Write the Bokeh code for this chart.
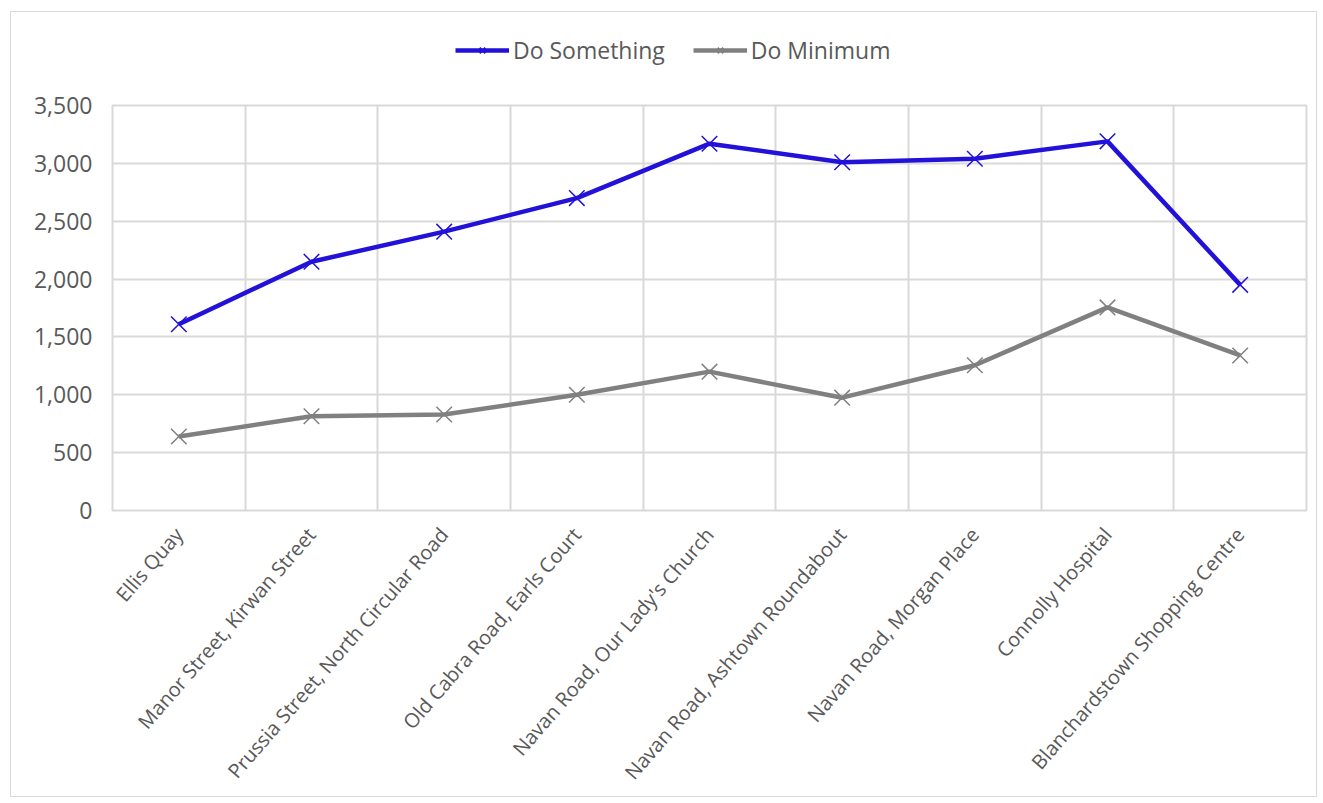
import math
from bokeh.plotting import figure
from bokeh.layouts import column
from bokeh.models import Range1d, FixedTicker, NumeralTickFormatter, Legend, LegendItem
from bokeh.embed import file_html
from bokeh.resources import INLINE

categories = ["Ellis Quay", "Manor Street, Kirwan Street", "Prussia Street, North Circular Road",
              "Old Cabra Road, Earls Court", "Navan Road, Our Lady's Church",
              "Navan Road, Ashtown Roundabout", "Navan Road, Morgan Place",
              "Connolly Hospital", "Blanchardstown Shopping Centre"]
do_something = [1610, 2150, 2410, 2700, 3170, 3010, 3040, 3190, 1950]
do_minimum = [640, 815, 830, 1000, 1200, 975, 1255, 1755, 1340]
y_ticks = [0, 500, 1000, 1500, 2000, 2500, 3000, 3500]
series_names = ["Do Something", "Do Minimum"]

FONT = "Open Sans"
TXT = "#595959"
GRID = "#d9d9d9"
BLUE = "#2212D9"
GRAY = "#808080"

xs = [i + 0.5 for i in range(len(categories))]

# ---- main chart ----
p = figure(width=1305, height=724, output_backend="svg", toolbar_location=None,
           x_range=Range1d(0, len(categories)), y_range=Range1d(0, 3500),
           min_border_left=101, min_border_top=33, min_border_right=10, min_border_bottom=285)
p.background_fill_color = "white"
p.border_fill_color = "white"
p.outline_line_color = GRID
p.outline_line_width = 2

p.xaxis.ticker = FixedTicker(ticks=xs)
p.xaxis.major_label_overrides = {x: c for x, c in zip(xs, categories)}
p.xaxis.major_label_orientation = 0.855
p.xgrid.ticker = FixedTicker(ticks=list(range(len(categories) + 1)))
p.yaxis.ticker = FixedTicker(ticks=y_ticks)
p.yaxis.formatter = NumeralTickFormatter(format="0,0")
for ax in (p.xaxis[0], p.yaxis[0]):
    ax.axis_line_color = None
    ax.major_tick_line_color = None
    ax.minor_tick_line_color = None
    ax.major_label_text_font = FONT
    ax.major_label_text_color = TXT
p.yaxis.major_label_text_font_size = "23px"
p.yaxis.major_label_standoff = 14
p.xaxis.major_label_text_font_size = "20px"
p.xaxis.major_label_standoff = 14
for g in (p.xgrid[0], p.ygrid[0]):
    g.grid_line_color = GRID
    g.grid_line_width = 2

p.line(xs, do_something, line_color=BLUE, line_width=4.5)
p.scatter(xs, do_something, marker="x", size=22, line_color=BLUE, line_width=1.5)
p.line(xs, do_minimum, line_color=GRAY, line_width=4.5)
p.scatter(xs, do_minimum, marker="x", size=22, line_color=GRAY, line_width=1.5)

# ---- legend strip (same series, view range set off the data so only the legend shows) ----
lg = figure(width=1305, height=60, output_backend="svg", toolbar_location=None,
            x_range=Range1d(-20, -10), y_range=Range1d(0, 3500),
            min_border=0)
lg.axis.visible = False
lg.grid.visible = False
lg.outline_line_color = None
lg.border_fill_color = "white"
l1 = lg.line(xs, do_something, line_color=BLUE, line_width=4.5)
s1 = lg.scatter(xs, do_something, marker="x", size=14, line_color=BLUE, line_width=2)
l2 = lg.line(xs, do_minimum, line_color=GRAY, line_width=4.5)
s2 = lg.scatter(xs, do_minimum, marker="x", size=14, line_color=GRAY, line_width=2)
legend = Legend(items=[LegendItem(label=series_names[0], renderers=[l1, s1]),
                       LegendItem(label=series_names[1], renderers=[l2, s2])],
                orientation="horizontal", location=(343, 6),
                label_text_font=FONT, label_text_font_size="23px", label_text_color=TXT,
                glyph_width=54, spacing=28, border_line_color=None, background_fill_alpha=0,
                margin=0, padding=6, label_standoff=4)
lg.add_layout(legend, "center")

layout = column(lg, p, spacing=0, margin=(11, 0, 0, 10))
layout.styles = {"border": "1px solid #d9d9d9"}

open("out.html", "w").write(file_html(layout, INLINE))
